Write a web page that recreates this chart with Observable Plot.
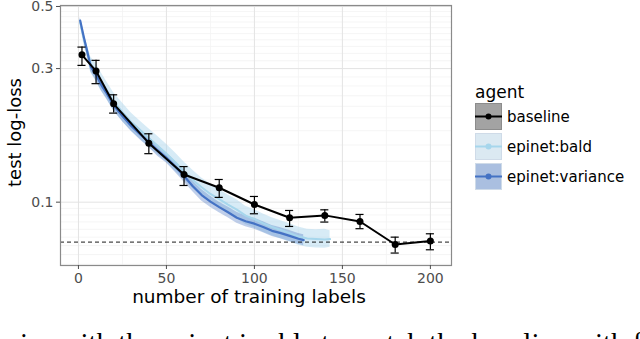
<!DOCTYPE html>
<html><head><meta charset="utf-8">
<script src="https://cdn.jsdelivr.net/npm/d3@7"></script>
<script src="https://cdn.jsdelivr.net/npm/@observablehq/plot@0.6"></script>
<style>
body{margin:0;width:640px;height:339px;overflow:hidden;background:#fff;font-family:"DejaVu Sans",sans-serif;position:relative}
#chart{position:absolute;left:0;top:0}
#legend{position:absolute;left:475px;top:81px;color:#000}
#legend .title{font-size:17px;line-height:22px;height:22px}
#legend .row{display:flex;align-items:center;height:27px;margin-bottom:3px}
#legend .row span{font-size:15px;margin-left:5px}
#caption{position:absolute;left:20px;top:328px;font-family:"Liberation Serif","DejaVu Serif",serif;font-size:29px;white-space:nowrap;line-height:30px}
</style></head><body>
<div id="chart"></div>
<div id="legend"></div>
<div id="caption">ies with the epinet is able to match the baseline with fewer labels</div>
<script>
// ---- data ----
const agents = ["baseline", "epinet:bald", "epinet:variance"];
const lineColors = ["#000000", "#a6d6ec", "#4472c4"];
const fillColors = ["#a3a3a3", "#dbe9f2", "#aabfe0"];

const xTicks = [0, 50, 100, 150, 200];
const xMinor = [25, 75, 125, 175];
const yTicks = [0.1, 0.3, 0.5];
const yMinor = [0.06, 0.065, 0.07, 0.075, 0.08, 0.085, 0.09, 0.095,
  0.12, 0.14, 0.16, 0.18, 0.2, 0.22, 0.24, 0.26, 0.28,
  0.32, 0.34, 0.36, 0.38, 0.4, 0.42, 0.44, 0.46, 0.48];
const referenceLevel = 0.072;

const baseX  = [2, 10, 20, 40, 60, 80, 100, 120, 140, 160, 180, 200];
const baseY  = [0.336, 0.294, 0.2245, 0.1625, 0.1256, 0.1126, 0.0981, 0.0880, 0.0897, 0.0853, 0.0706, 0.0726];
const baseLo = [0.308, 0.265, 0.208, 0.149, 0.1147, 0.104, 0.0909, 0.0819, 0.0849, 0.0804, 0.0658, 0.0676];
const baseHi = [0.358, 0.321, 0.2418, 0.1755, 0.134, 0.1205, 0.1048, 0.0934, 0.0939, 0.0904, 0.075, 0.0771];

const varX  = [1,3,5,7,10,13,16,20,25,30,35,40,45,50,55,60,65,70,75,80,85,90,95,100,105,110,115,120,125,128];
const varY  = [0.445,0.39,0.345,0.305,0.285,0.262,0.245,0.222,0.203,0.187,0.175,0.164,0.153,0.144,0.134,0.124,0.114,0.106,0.1005,0.096,0.092,0.088,0.0855,0.0838,0.0815,0.079,0.0775,0.0758,0.074,0.0732];
const varLo = [0.432,0.378,0.334,0.293,0.272,0.250,0.234,0.212,0.194,0.179,0.167,0.157,0.146,0.138,0.128,0.118,0.109,0.101,0.096,0.0917,0.0879,0.0840,0.0817,0.0800,0.0778,0.0754,0.0740,0.0724,0.0707,0.0699];
const varHi = [0.458,0.402,0.356,0.317,0.298,0.274,0.256,0.232,0.212,0.195,0.183,0.171,0.160,0.150,0.140,0.130,0.119,0.111,0.105,0.100,0.0961,0.0920,0.0893,0.0876,0.0852,0.0826,0.0810,0.0792,0.0773,0.0765];

const baldX  = [1,3,5,7,10,13,16,20,25,30,35,40,45,50,55,60,65,70,75,80,85,90,95,100,105,110,115,120,125,130,135,140,143];
const baldY  = [0.44,0.385,0.345,0.31,0.29,0.268,0.25,0.228,0.209,0.193,0.181,0.169,0.159,0.149,0.139,0.129,0.12,0.113,0.107,0.1025,0.098,0.094,0.0895,0.087,0.084,0.0815,0.0795,0.0775,0.0755,0.0742,0.0738,0.0735,0.0738];
const baldLo = [0.425,0.368,0.325,0.29,0.270,0.249,0.233,0.212,0.194,0.179,0.168,0.157,0.148,0.139,0.129,0.120,0.112,0.105,0.0995,0.0953,0.0911,0.0874,0.0832,0.0809,0.0781,0.0758,0.0739,0.0721,0.0702,0.0690,0.0686,0.0684,0.0690];
const baldHi = [0.455,0.402,0.365,0.33,0.313,0.289,0.270,0.246,0.226,0.208,0.195,0.183,0.172,0.161,0.150,0.139,0.130,0.122,0.116,0.111,0.106,0.102,0.0967,0.0940,0.0907,0.0880,0.0859,0.0837,0.0815,0.0801,0.0797,0.0800,0.0790];

// ---- tables ----
const baseline = baseX.map((x, i) => ({x, y: baseY[i], lo: baseLo[i], hi: baseHi[i]}));
const variance = varX.map((x, i) => ({x, y: varY[i], lo: varLo[i], hi: varHi[i]}));
const bald = baldX.map((x, i) => ({x, y: baldY[i], lo: baldLo[i], hi: baldHi[i]}));

const capHalf = 2.3;

const chart = Plot.plot({
  width: 640, height: 339,
  marginLeft: 60, marginRight: 189, marginTop: 5, marginBottom: 74,
  style: {fontFamily: "DejaVu Sans", fontSize: "14px", background: "white"},
  x: {domain: [-10.2, 212]},
  y: {type: "log", domain: [0.0594, 0.504]},
  marks: [
    Plot.ruleY(yMinor, {stroke: "#f3f3f3", strokeWidth: 0.8}),
    Plot.ruleX(xMinor, {stroke: "#f3f3f3", strokeWidth: 0.8}),
    Plot.ruleY(yTicks, {stroke: "#e3e3e3", strokeWidth: 1}),
    Plot.ruleX(xTicks, {stroke: "#e3e3e3", strokeWidth: 1}),
    Plot.areaY(bald, {x: "x", y1: "lo", y2: "hi", fill: "#a6d3ea", fillOpacity: 0.45}),
    Plot.areaY(variance, {x: "x", y1: "lo", y2: "hi", fill: "#4a76c2", fillOpacity: 0.35}),
    Plot.lineY(bald, {x: "x", y: "y", stroke: lineColors[1], strokeWidth: 2}),
    Plot.lineY(variance, {x: "x", y: "y", stroke: lineColors[2], strokeWidth: 2.2}),
    Plot.ruleY([referenceLevel], {stroke: "#000", strokeWidth: 0.9, strokeDasharray: "4,3"}),
    Plot.lineY(baseline, {x: "x", y: "y", stroke: "#000", strokeWidth: 2}),
    Plot.ruleX(baseline, {x: "x", y1: "lo", y2: "hi", stroke: "#000", strokeWidth: 1.2}),
    Plot.ruleY(baseline, {y: "lo", x1: d => d.x - capHalf, x2: d => d.x + capHalf, stroke: "#000", strokeWidth: 1.2}),
    Plot.ruleY(baseline, {y: "hi", x1: d => d.x - capHalf, x2: d => d.x + capHalf, stroke: "#000", strokeWidth: 1.2}),
    Plot.dot(baseline, {x: "x", y: "y", r: 3.5, fill: "#000"}),
    Plot.frame({stroke: "#8a8a8a", strokeWidth: 1.2}),
    Plot.axisX(xTicks, {tickSize: 4, tickPadding: 4, fontSize: 14, color: "#4d4d4d", label: null}),
    Plot.axisY(yTicks, {tickSize: 4, tickPadding: 3, fontSize: 14, color: "#4d4d4d", label: null, tickFormat: d => String(d)}),
    Plot.text(["number of training labels"], {frameAnchor: "bottom", dy: 37, dx: -7, fontSize: 18.5, fill: "#000"}),
    Plot.text(["test log-loss"], {frameAnchor: "left", textAnchor: "middle", rotate: -90, dx: -45, dy: -3, fontSize: 18, fill: "#000"})
  ]
});
document.getElementById("chart").appendChild(chart);

// ---- legend ----
const leg = document.getElementById("legend");
let html = '<div class="title">agent</div>';
agents.forEach((a, i) => {
  html += `<div class="row"><svg width="27" height="27">
    <rect x="0.5" y="0.5" width="26" height="26" fill="${fillColors[i]}" stroke="${i===0?"#8c8c8c":"#cfdbe8"}"/>
    <line x1="0" x2="27" y1="13.5" y2="13.5" stroke="${lineColors[i]}" stroke-width="2"/>
    <circle cx="13.5" cy="13.5" r="3" fill="${lineColors[i]}"/>
  </svg><span>${a}</span></div>`;
});
leg.innerHTML = html;
</script>
</body></html>
